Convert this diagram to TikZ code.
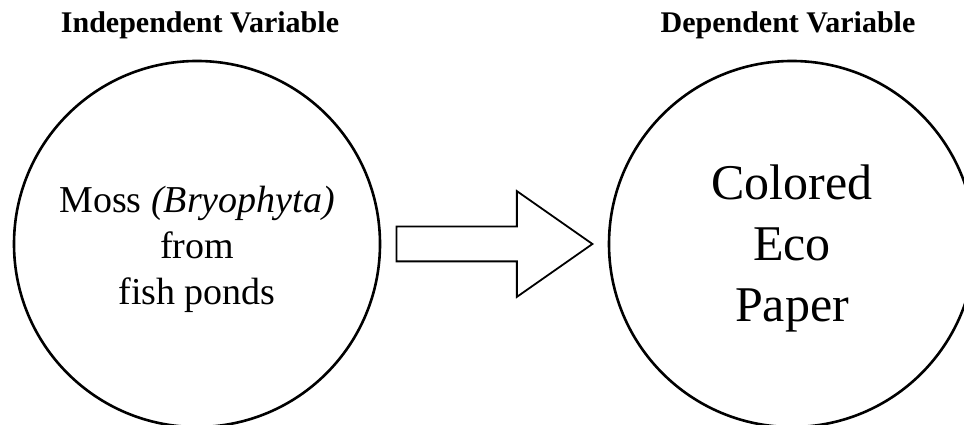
\documentclass[tikz,border=0pt]{standalone}
\usepackage{fontspec}
\setmainfont{Liberation Serif}
\usetikzlibrary{shapes.arrows}
\tikzset{
 var/.style={draw, circle, line width=2.6pt, minimum size=366pt, inner sep=0pt},
 vartext/.style={align=center, inner sep=0pt},
 title/.style={font=\fontsize{30}{36}\selectfont\bfseries, anchor=base},
 bigarrow/.style={draw, single arrow, line width=1.8pt, minimum height=196pt,
   single arrow head extend=35.5pt, single arrow tip angle=70, inner xsep=0pt, inner ysep=16.5pt}
}
\begin{document}
\begin{tikzpicture}[x=1pt,y=1pt]
 \useasboundingbox (0,0) rectangle (964,425);
 \clip (0,0) rectangle (964,425);
 \node[title] (indeptitle) at (200,392) {Independent Variable};
 \node[title] (deptitle) at (788,392) {Dependent Variable};
 \node[var] (indep) at (197,181) {};
 \node[var] (dep) at (792,181) {};
 \node[vartext, font=\fontsize{38}{46}\selectfont] (indeptext) at ([yshift=-5pt]indep.center)
   {Moss \textit{(Bryophyta)}\\from\\fish ponds};
 \node[vartext, font=\fontsize{50}{61}\selectfont] (deptext) at ([yshift=-4pt]dep.center)
   {Colored\\Eco\\Paper};
 \node[bigarrow] (arr) at (482,181) {};
\end{tikzpicture}
\end{document}
